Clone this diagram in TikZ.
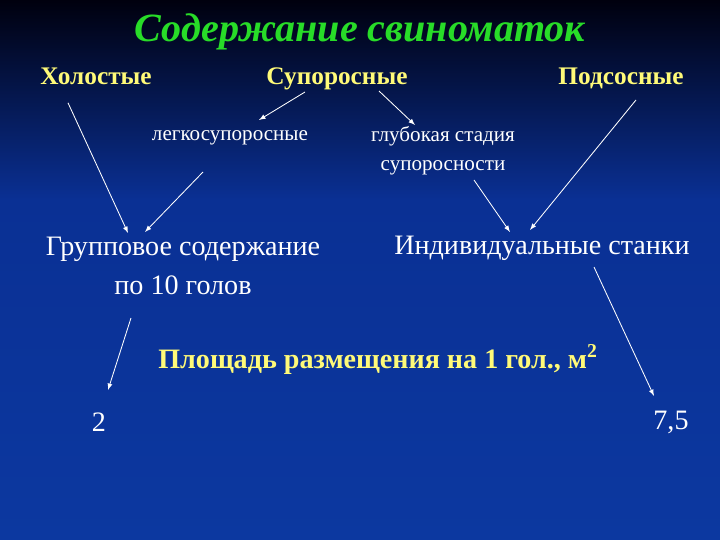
\documentclass[tikz,border=0pt]{standalone}
\usepackage{fontspec}
\setmainfont{Liberation Serif}
\usepackage{tikz}
\usetikzlibrary{arrows}

\definecolor{slidetop}{RGB}{0,0,14}
\definecolor{slidemid}{RGB}{10,48,148}
\definecolor{slidebot}{RGB}{12,56,160}
\definecolor{titlegreen}{RGB}{40,220,40}
\definecolor{headyellow}{RGB}{255,250,120}

\tikzset{
	head/.style={text=headyellow, font=\fontsize{18}{20}\selectfont\bfseries, text height=0.7em, text depth=0.22em},
	plain/.style={text=white, font=\fontsize{15}{21}\selectfont, align=center},
	big/.style={text=white, font=\fontsize{20}{28}\selectfont, align=center},
	arr/.style={-latex, white, line width=0.6pt}
}

\begin{document}
\begin{tikzpicture}
		\useasboundingbox (0,0) rectangle (18,13.5);
		\shade[top color=slidetop, bottom color=slidemid] (0,8.5) rectangle (18,13.5);
		\shade[top color=slidemid, bottom color=slidebot] (0,0) rectangle (18,8.5);
	
		\node (title) at (9,12.7) {\textcolor{titlegreen}{\fontsize{28.5}{34}\selectfont\bfseries\itshape Содержание свиноматок}};
	
		\node[head] (hol) at (2.4,11.48) {Холостые};
		\node[head] (sup) at (8.425,11.48) {Супоросные};
		\node[head] (pod) at (15.525,11.48) {Подсосные};
		\node[plain] (leg) at (5.75,10.05) {легкосупоросные};
		\node[plain] (glub) at (11.075,9.73) {глубокая стадия\\супоросности};
		\node[big] (grp) at (4.575,6.85) {Групповое содержание\\по 10 голов};
		\node[big] (ind) at (13.55,7.3) {Индивидуальные станки};
		\node[head, font=\fontsize{20}{24}\selectfont\bfseries] (plo) at (9.45,4.38) {Площадь размещения на 1 гол., м$^{\mathbf{2}}$};
		\node[big] (two) at (2.475,2.95) {2};
		\node[big] (sev) at (16.775,2.95) {7,5};
		
		\draw [arr] ([shift={(-0.7,-0.55)}]hol.center) -- ([shift={(-1.375,0.825)}]grp.center);
		\draw [arr] ([shift={(-0.675,-0.85)}]leg.center) -- ([shift={(-0.95,0.85)}]grp.center);
		\draw [arr] ([shift={(-0.8,-0.28)}]sup.center) -- ([shift={(0.725,0.45)}]leg.center);
		\draw [arr] ([shift={(1.05,-0.255)}]sup.center) -- ([shift={(-0.7,0.645)}]glub.center);
		\draw [arr] ([shift={(0.775,-0.73)}]glub.center) -- ([shift={(-0.8,0.4)}]ind.center);
		\draw [arr] ([shift={(0.375,-0.48)}]pod.center) -- ([shift={(-0.3,0.45)}]ind.center);
		\draw [arr] ([shift={(-1.3,-1.3)}]grp.center) -- ([shift={(0.225,0.8)}]two.center);
		\draw [arr] ([shift={(1.3,-0.475)}]ind.center) -- ([shift={(-0.425,0.65)}]sev.center);
	\end{tikzpicture}
\end{document}
